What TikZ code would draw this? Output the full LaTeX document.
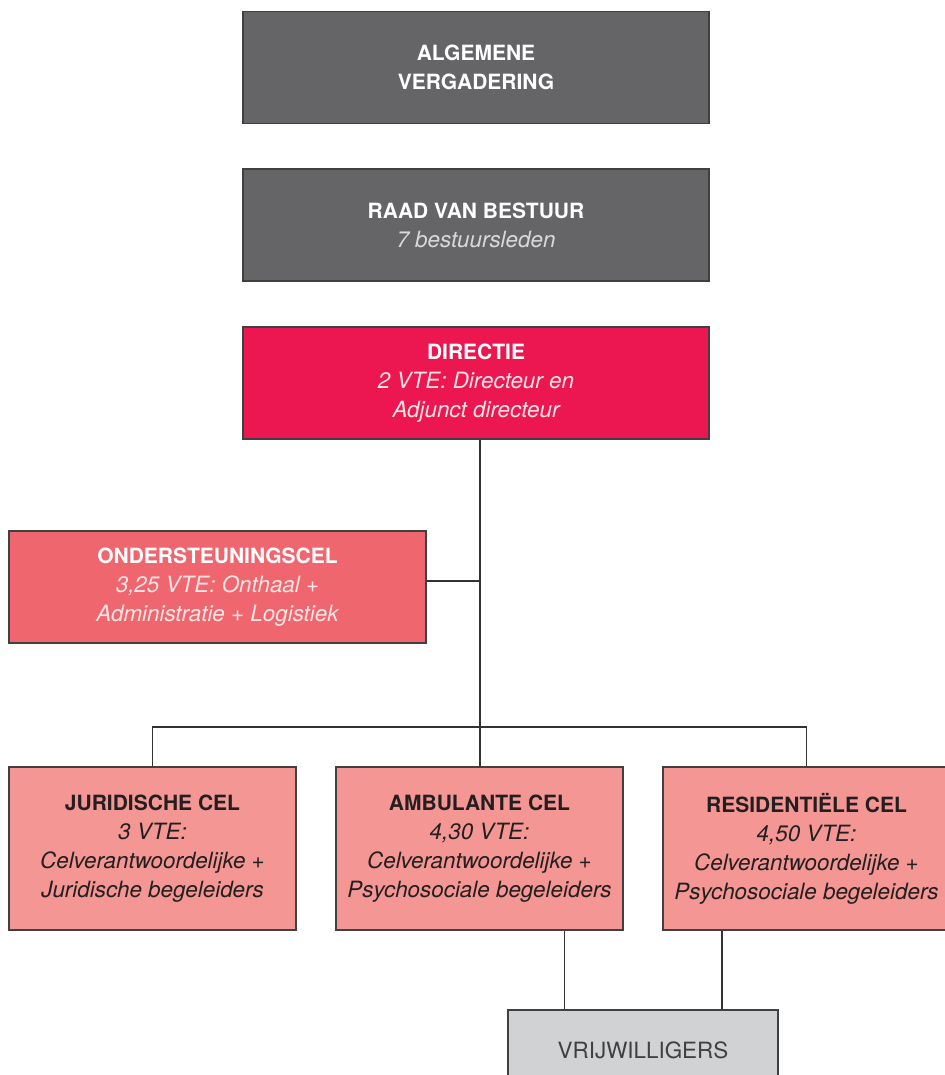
\documentclass[tikz,border=0pt]{standalone}
\usepackage{fontspec}
\setmainfont{TeX Gyre Heros}

\definecolor{bestuurgray}{HTML}{656466}
\definecolor{directiered}{HTML}{EC1650}
\definecolor{steunred}{HTML}{F0666F}
\definecolor{celpink}{HTML}{F49693}
\definecolor{vrijgray}{HTML}{D1D2D4}
\definecolor{inktgray}{HTML}{231F20}

\newcommand{\kop}[1]{{\fontsize{10.5}{14.5}\selectfont\bfseries #1}}
\newcommand{\subtekst}[1]{{\itshape #1}}

\begin{document}
\begin{tikzpicture}[
    x=0.5pt, y=-0.5pt,
    % Box styles
    box/.style={draw=black!75, line width=0.6pt, inner sep=0pt, align=center, font=\fontsize{11.2}{14.5}\selectfont},
    bestuur/.style={box, fill=bestuurgray, text=white, minimum width=233pt, minimum height=56pt},
    directie-box/.style={box, fill=directiered, text=white, minimum width=233pt, minimum height=56pt},
    steun-box/.style={box, fill=steunred, text=white, minimum width=208.5pt, minimum height=56pt},
    cel/.style={box, fill=celpink, text=inktgray, minimum width=143.5pt, minimum height=81.5pt},
    vrij-box/.style={box, fill=vrijgray, text=black!75, minimum width=135pt, minimum height=40pt},
    % Connector style
    link/.style={draw=black!80, line width=0.6pt},
]

\useasboundingbox (0,0) rectangle (944,1075);

% === TOP ===
\node[bestuur] (algemeen) at (476, 67.5) {\kop{ALGEMENE}\\\kop{VERGADERING}};
\node[bestuur] (raad) at (476, 225) {\kop{RAAD VAN BESTUUR}\\\subtekst{\color{white!85!black}7 bestuursleden}};
\node[directie-box] (directie) at (476, 383) {\kop{DIRECTIE}\\\subtekst{\color{white!90!red}2 VTE: Directeur en}\\\subtekst{\color{white!90!red}Adjunct directeur}};

% === SUPPORT ===
\node[steun-box] (steun) at (217.5, 587) {\kop{ONDERSTEUNINGSCEL}\\\subtekst{\color{white!90!red}3,25 VTE: Onthaal +}\\\subtekst{\color{white!90!red}Administratie + Logistiek}};

% === CELLS ===
\node[cel] (juridisch) at (152.5, 848.5) {\kop{JURIDISCHE CEL}\\\subtekst{3 VTE:}\\\subtekst{Celverantwoordelijke +}\\\subtekst{Juridische begeleiders}};
\node[cel] (ambulant) at (479.5, 848.5) {\kop{AMBULANTE CEL}\\\subtekst{4,30 VTE:}\\\subtekst{Celverantwoordelijke +}\\\subtekst{Psychosociale begeleiders}};
\node[cel] (residentieel) at (806.5, 848.5) {\kop{RESIDENTIËLE CEL}\\\subtekst{4,50 VTE:}\\\subtekst{Celverantwoordelijke +}\\\subtekst{Psychosociale begeleiders}};

% === VOLUNTEERS ===
\node[vrij-box] (vrijwilligers) at (643, 1050) {VRIJWILLIGERS};

% === CONNECTORS ===
\coordinate (split) at (480, 727);
\draw[link] (directie.south -| split) -- (split);
\draw[link] ([yshift=3pt]steun.east) -- ([yshift=3pt]steun.east -| split);
\draw[link] (juridisch.north) |- (split) -| (residentieel.north);
\draw[link] (split) -- (ambulant.north -| split);
\draw[link] ([xshift=42.5pt]ambulant.south) -- ([xshift=42.5pt]ambulant.south |- vrijwilligers.north);
\draw[link] ([xshift=-42.25pt]residentieel.south) -- ([xshift=-42.25pt]residentieel.south |- vrijwilligers.north);

\end{tikzpicture}
\end{document}
